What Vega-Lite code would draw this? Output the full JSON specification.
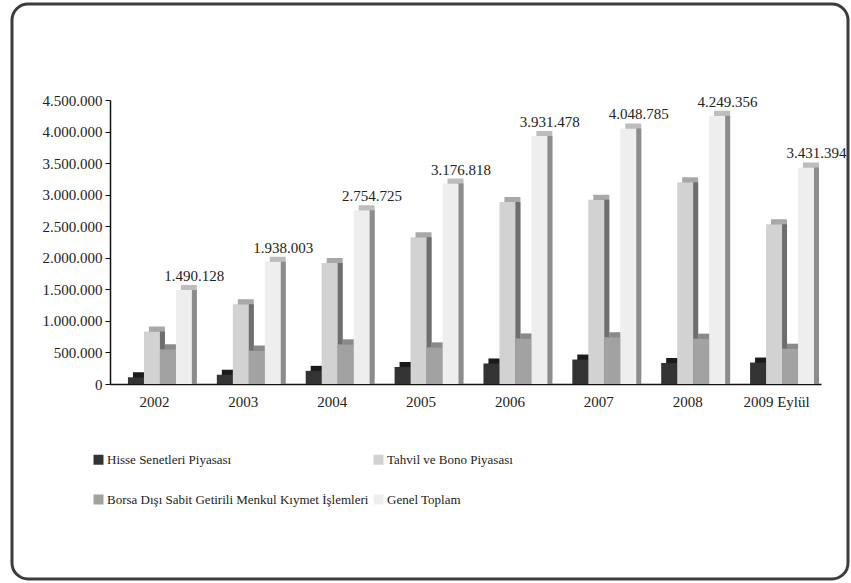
{
  "$schema": "https://vega.github.io/schema/vega-lite/v6.json",
  "width": 836,
  "height": 575,
  "padding": {"left": 12, "top": 4, "right": 3, "bottom": 4},
  "autosize": {"type": "pad"},
  "background": "white",
  "config": {
    "view": {"stroke": "#3c3c3c", "strokeWidth": 3, "cornerRadius": 16, "fill": "white"},
    "locale": {"number": {"decimal": ",", "thousands": ".", "grouping": [3], "currency": ["", ""]}},
    "font": "Liberation Serif"
  },
  "data": {
    "values": [
      {"yil": "2002", "seri": "Hisse Senetleri Piyasası", "deger": 106302},
      {"yil": "2002", "seri": "Tahvil ve Bono Piyasası", "deger": 833826},
      {"yil": "2002", "seri": "Borsa Dışı Sabit Getirili Menkul Kıymet İşlemleri", "deger": 550000},
      {"yil": "2002", "seri": "Genel Toplam", "deger": 1490128},
      {"yil": "2003", "seri": "Hisse Senetleri Piyasası", "deger": 146645},
      {"yil": "2003", "seri": "Tahvil ve Bono Piyasası", "deger": 1262000},
      {"yil": "2003", "seri": "Borsa Dışı Sabit Getirili Menkul Kıymet İşlemleri", "deger": 529358},
      {"yil": "2003", "seri": "Genel Toplam", "deger": 1938003},
      {"yil": "2004", "seri": "Hisse Senetleri Piyasası", "deger": 208423},
      {"yil": "2004", "seri": "Tahvil ve Bono Piyasası", "deger": 1918000},
      {"yil": "2004", "seri": "Borsa Dışı Sabit Getirili Menkul Kıymet İşlemleri", "deger": 628302},
      {"yil": "2004", "seri": "Genel Toplam", "deger": 2754725},
      {"yil": "2005", "seri": "Hisse Senetleri Piyasası", "deger": 269931},
      {"yil": "2005", "seri": "Tahvil ve Bono Piyasası", "deger": 2326000},
      {"yil": "2005", "seri": "Borsa Dışı Sabit Getirili Menkul Kıymet İşlemleri", "deger": 580887},
      {"yil": "2005", "seri": "Genel Toplam", "deger": 3176818},
      {"yil": "2006", "seri": "Hisse Senetleri Piyasası", "deger": 325131},
      {"yil": "2006", "seri": "Tahvil ve Bono Piyasası", "deger": 2884000},
      {"yil": "2006", "seri": "Borsa Dışı Sabit Getirili Menkul Kıymet İşlemleri", "deger": 722347},
      {"yil": "2006", "seri": "Genel Toplam", "deger": 3931478},
      {"yil": "2007", "seri": "Hisse Senetleri Piyasası", "deger": 387777},
      {"yil": "2007", "seri": "Tahvil ve Bono Piyasası", "deger": 2920000},
      {"yil": "2007", "seri": "Borsa Dışı Sabit Getirili Menkul Kıymet İşlemleri", "deger": 741008},
      {"yil": "2007", "seri": "Genel Toplam", "deger": 4048785},
      {"yil": "2008", "seri": "Hisse Senetleri Piyasası", "deger": 332615},
      {"yil": "2008", "seri": "Tahvil ve Bono Piyasası", "deger": 3198000},
      {"yil": "2008", "seri": "Borsa Dışı Sabit Getirili Menkul Kıymet İşlemleri", "deger": 718741},
      {"yil": "2008", "seri": "Genel Toplam", "deger": 4249356},
      {"yil": "2009 Eylül", "seri": "Hisse Senetleri Piyasası", "deger": 340000},
      {"yil": "2009 Eylül", "seri": "Tahvil ve Bono Piyasası", "deger": 2532000},
      {"yil": "2009 Eylül", "seri": "Borsa Dışı Sabit Getirili Menkul Kıymet İşlemleri", "deger": 559394},
      {"yil": "2009 Eylül", "seri": "Genel Toplam", "deger": 3431394}
    ]
  },
  "encoding": {
    "x": {
      "field": "yil", "type": "nominal", "sort": null,
      "scale": {"range": [98, 809], "paddingInner": 0, "paddingOuter": 0},
      "axis": {"title": null, "offset": -195, "ticks": false, "labelPadding": 10, "labelFontSize": 15, "labelFont": "Liberation Serif", "labelColor": "#222", "domainColor": "#111", "domainWidth": 1.5, "labelAngle": 0}
    },
    "xOffset": {
      "field": "seri", "type": "nominal",
      "scale": {"domain": ["Hisse Senetleri Piyasası", "Tahvil ve Bono Piyasası", "Borsa Dışı Sabit Getirili Menkul Kıymet İşlemleri", "Genel Toplam"], "paddingInner": 0, "paddingOuter": 0.78, "align": 0.72}
    },
    "y": {
      "field": "deger", "type": "quantitative",
      "scale": {"domain": [0, 4500000], "range": [380, 96], "nice": false, "zero": true},
      "axis": {"title": null, "values": [0, 500000, 1000000, 1500000, 2000000, 2500000, 3000000, 3500000, 4000000, 4500000], "format": ",.0f", "offset": -98, "tickSize": 5, "labelPadding": 3, "labelFontSize": 15, "labelFont": "Liberation Serif", "labelColor": "#222", "domainColor": "#111", "domainWidth": 1.5, "tickColor": "#111", "grid": false}
    }
  },
  "layer": [
    {
      "mark": {"type": "bar", "yOffset": -5, "y2Offset": -5},
      "encoding": {
        "xOffset": {
          "field": "seri", "type": "nominal",
          "scale": {"domain": ["Hisse Senetleri Piyasası", "Tahvil ve Bono Piyasası", "Borsa Dışı Sabit Getirili Menkul Kıymet İşlemleri", "Genel Toplam"], "paddingInner": 0, "paddingOuter": 0.78, "align": 0.92}
        },
        "color": {"field": "seri", "type": "nominal", "legend": null,
          "scale": {"domain": ["Hisse Senetleri Piyasası", "Tahvil ve Bono Piyasası", "Borsa Dışı Sabit Getirili Menkul Kıymet İşlemleri", "Genel Toplam"], "range": ["#1a1a1a", "#a8a8a8", "#8a8a8a", "#bdbdbd"]}}
      }
    },
    {
      "mark": {"type": "bar"},
      "encoding": {
        "xOffset": {
          "field": "seri", "type": "nominal",
          "scale": {"domain": ["Hisse Senetleri Piyasası", "Tahvil ve Bono Piyasası", "Borsa Dışı Sabit Getirili Menkul Kıymet İşlemleri", "Genel Toplam"], "paddingInner": 0, "paddingOuter": 0.78, "align": 0.92}
        },
        "color": {"field": "seri", "type": "nominal", "legend": null,
          "scale": {"domain": ["Hisse Senetleri Piyasası", "Tahvil ve Bono Piyasası", "Borsa Dışı Sabit Getirili Menkul Kıymet İşlemleri", "Genel Toplam"], "range": ["#111111", "#6e6e6e", "#6a6a6a", "#8c8c8c"]}}
      }
    },
    {
      "mark": {"type": "bar"},
      "encoding": {
        "color": {"field": "seri", "type": "nominal",
          "scale": {"domain": ["Hisse Senetleri Piyasası", "Borsa Dışı Sabit Getirili Menkul Kıymet İşlemleri", "Tahvil ve Bono Piyasası", "Genel Toplam"], "range": ["#333333", "#a2a2a2", "#d2d2d2", "#eeeeee"]},
          "legend": {"title": null, "orient": "none", "legendX": 80, "legendY": 449, "columns": 2, "symbolType": "square", "symbolSize": 100, "symbolStrokeWidth": 0, "labelFontSize": 13, "labelFont": "Liberation Serif", "labelColor": "#222", "rowPadding": 26, "columnPadding": 3, "labelOffset": 2, "padding": 0, "labelLimit": 400}
        }
      }
    },
    {
      "transform": [{"filter": "datum.seri === 'Genel Toplam'"}],
      "mark": {"type": "text", "dx": 4, "dy": -9, "baseline": "alphabetic", "fontSize": 15, "font": "Liberation Serif", "color": "#222"},
      "encoding": {"text": {"field": "deger", "type": "quantitative", "format": ",.0f"}}
    }
  ],
  "resolve": {"scale": {"color": "independent", "xOffset": "independent"}}
}
